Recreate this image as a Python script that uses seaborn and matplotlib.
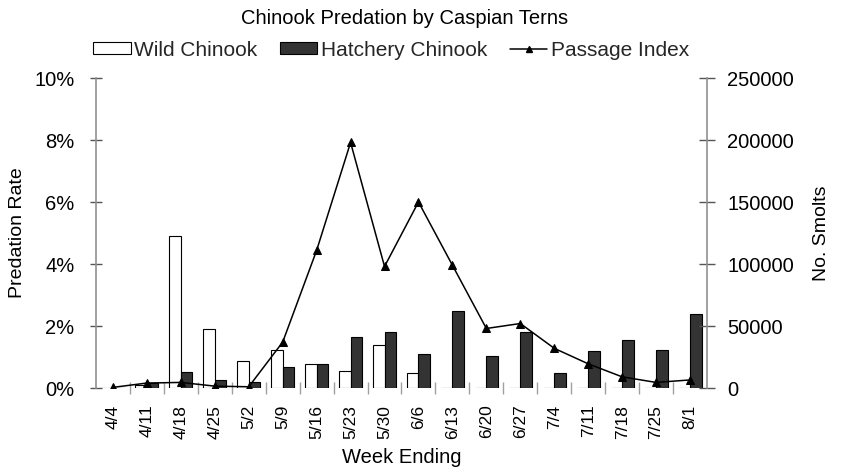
import numpy as np
import pandas as pd
import matplotlib
matplotlib.use("Agg")
import matplotlib.pyplot as plt
import seaborn as sns
from matplotlib.patches import Patch
from matplotlib.lines import Line2D
from matplotlib.ticker import FuncFormatter, FixedLocator

weeks = ["4/4", "4/11", "4/18", "4/25", "5/2", "5/9", "5/16", "5/23", "5/30",
         "6/6", "6/13", "6/20", "6/27", "7/4", "7/11", "7/18", "7/25", "8/1"]
wild = [0.0, 0.1, 4.9, 1.9, 0.87, 1.23, 0.78, 0.55, 1.39,
        0.47, 0.0, 0.0, 0.0, 0.0, 0.0, 0.0, 0.0, 0.0]
hatchery = [0.0, 0.15, 0.52, 0.25, 0.2, 0.68, 0.78, 1.65, 1.8,
            1.1, 2.48, 1.04, 1.8, 0.47, 1.19, 1.55, 1.23, 2.38]
passage = [500, 4000, 4500, 1500, 1000, 37000, 111000, 198000, 98000,
           150000, 99000, 48000, 52000, 32000, 19500, 9000, 4500, 6500]

sns.set_theme(style="white")
plt.rcParams["font.family"] = ["Liberation Sans", "DejaVu Sans"]

df = pd.DataFrame({
    "Week": weeks * 2,
    "Rate": wild + hatchery,
    "Type": ["Wild Chinook"] * len(weeks) + ["Hatchery Chinook"] * len(weeks),
})

fig = plt.figure(figsize=(8.45, 4.74), dpi=100)
ax = fig.add_axes([96 / 845, 1 - 388 / 474, (707 - 96) / 845, (388 - 78) / 474])

sns.barplot(data=df, x="Week", y="Rate", hue="Type", order=weeks,
            hue_order=["Wild Chinook", "Hatchery Chinook"],
            palette={"Wild Chinook": "white", "Hatchery Chinook": "#333333"},
            edgecolor="black", linewidth=0.8, width=0.68, ax=ax, legend=False)

ax.set_ylim(0, 10)
ax.set_xlim(-0.5, len(weeks) - 0.5)
ax.set_yticks([0, 2, 4, 6, 8, 10])
ax.yaxis.set_major_formatter(FuncFormatter(lambda v, p: f"{v:.0f}%"))
ax.set_ylabel("Predation Rate", fontsize=14, color="black", labelpad=6)
ax.set_xlabel("Week Ending", fontsize=14.5, color="black", labelpad=7)
ax.tick_params(axis="x", which="major", length=0, labelsize=12.5, rotation=90,
               pad=12, labelcolor="black")
ax.xaxis.set_minor_locator(FixedLocator(np.arange(0.5, len(weeks) - 0.5, 1)))
ax.tick_params(axis="x", which="minor", bottom=True, direction="inout",
               length=9, width=1, color="#a0a0a0")
ax.tick_params(axis="y", left=True, direction="inout", length=9, width=1,
               color="#555555", labelsize=14.5, labelcolor="black", pad=11)
for s in ["top", "right", "bottom"]:
    ax.spines[s].set_visible(False)
ax.spines["left"].set_color("#909090")
ax.spines["left"].set_linewidth(1.2)

ax2 = ax.twinx()
sns.lineplot(x=np.arange(len(weeks)), y=passage, ax=ax2, color="black",
             linewidth=1.1, marker="^", markersize=6, markeredgecolor="black",
             legend=False)
ax2.set_ylim(0, 250000)
ax2.set_yticks([0, 50000, 100000, 150000, 200000, 250000])
ax2.yaxis.set_major_formatter(FuncFormatter(lambda v, p: f"{v:.0f}"))
ax2.set_ylabel("No. Smolts", fontsize=14, color="black", labelpad=14)
ax2.tick_params(axis="y", right=True, direction="inout", length=11, width=1,
                color="#555555", labelsize=14.5, labelcolor="black", pad=9)
for s in ["top", "left", "bottom"]:
    ax2.spines[s].set_visible(False)
ax2.spines["right"].set_color("#909090")
ax2.spines["right"].set_linewidth(1.2)
ax2.set_xlim(-0.5, len(weeks) - 0.5)

fig.text(405 / 845, 1 - 18 / 474, "Chinook Predation by Caspian Terns",
         ha="center", va="center", fontsize=14.5, color="black")

handles = [
    Patch(facecolor="white", edgecolor="black", linewidth=0.8),
    Patch(facecolor="#333333", edgecolor="black", linewidth=0.8),
    Line2D([0], [0], color="black", linewidth=1.1, marker="^", markersize=5),
]
fig.legend(handles, ["Wild Chinook", "Hatchery Chinook", "Passage Index"],
           loc="center", bbox_to_anchor=(391 / 845, 1 - 50 / 474), ncol=3,
           frameon=False, fontsize=15, handlelength=1.8, handleheight=0.55,
           handletextpad=0.15, columnspacing=1.1, borderaxespad=0,
           borderpad=0)

fig.savefig("out.png", dpi=100)
